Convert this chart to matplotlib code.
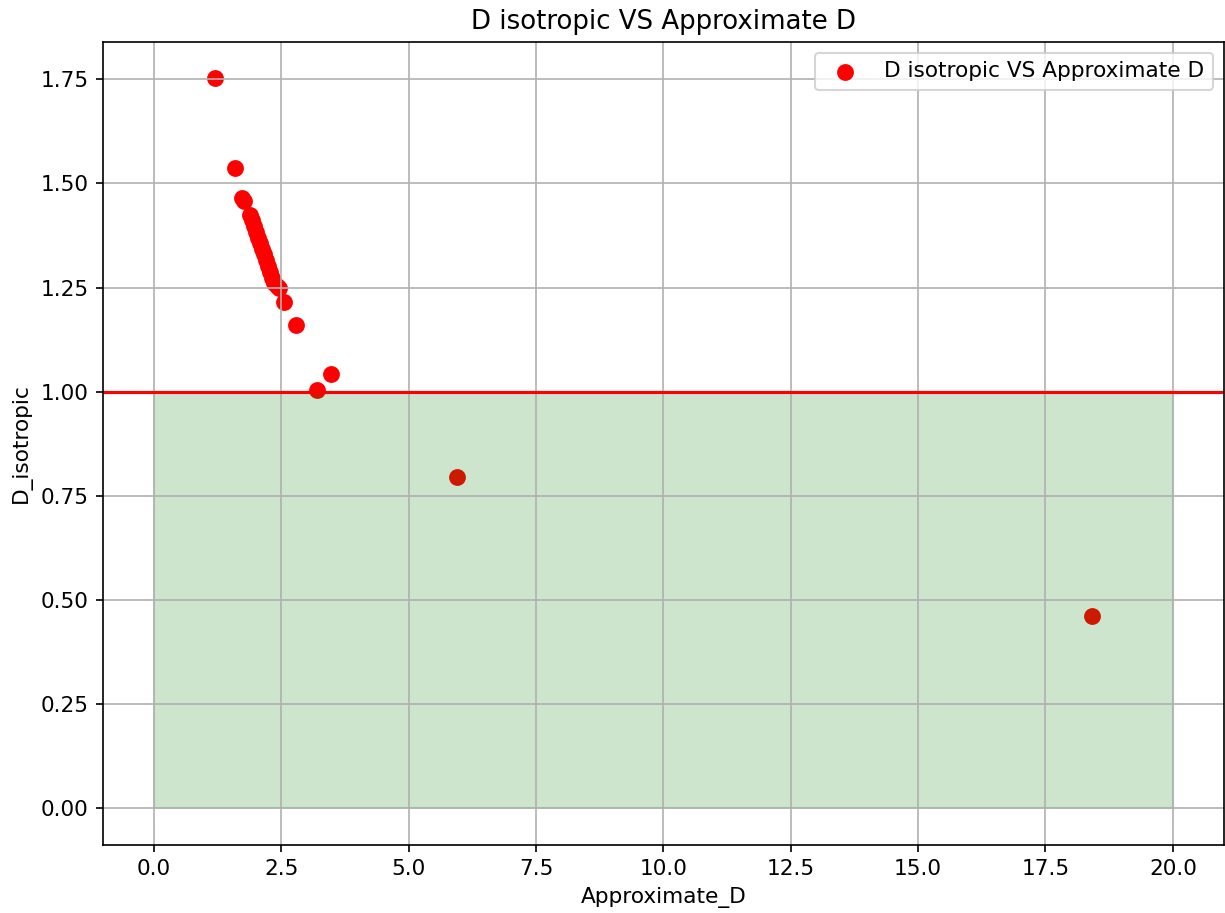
import numpy as np
import matplotlib
matplotlib.use('Agg')
import matplotlib.pyplot as plt

# values
approx_d = [1.20, 1.59, 1.73, 1.77, 1.88, 1.92, 1.96, 2.00, 2.04, 2.08, 2.12,
            2.16, 2.20, 2.24, 2.28, 2.32, 2.36, 2.42, 2.46, 2.55, 2.79,
            3.20, 3.47, 5.95, 18.41]
d_iso = [1.752, 1.538, 1.466, 1.457, 1.425, 1.413, 1.398, 1.384, 1.370, 1.356,
         1.343, 1.330, 1.316, 1.302, 1.288, 1.274, 1.260, 1.253, 1.250, 1.216,
         1.159, 1.005, 1.043, 0.796, 0.462]

region_x = [0, 20]

plt.rcParams['font.size'] = 10.4

fig, ax = plt.subplots(figsize=(1225 / 150, 913 / 150), dpi=150)
fig.subplots_adjust(left=0.084, right=0.999, top=0.954, bottom=0.075)

ax.scatter(approx_d, d_iso, color='red', s=50, label='D isotropic VS Approximate D')
ax.axhline(1.0, color='red')
ax.fill_between(region_x, 0, 1, color='green', alpha=0.2)

ax.set_title('D isotropic VS Approximate D')
ax.set_xlabel('Approximate_D')
ax.set_ylabel('D_isotropic')
ax.grid(True)
ax.legend()

fig.savefig('out.png')
